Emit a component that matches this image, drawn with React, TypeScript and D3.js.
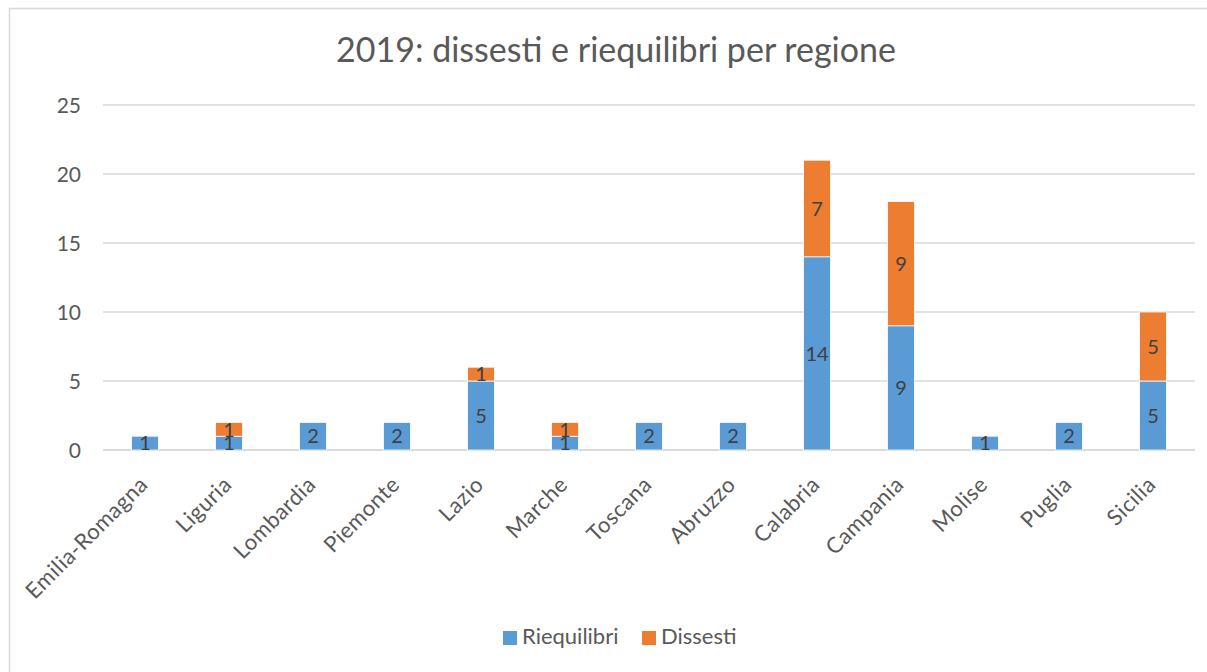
import React from "react";
import * as d3 from "d3";

const regions = ["Emilia-Romagna", "Liguria", "Lombardia", "Piemonte", "Lazio", "Marche", "Toscana", "Abruzzo", "Calabria", "Campania", "Molise", "Puglia", "Sicilia"];
const riequilibri = [1, 1, 2, 2, 5, 1, 2, 2, 14, 9, 1, 2, 5];
const dissesti = [0, 1, 0, 0, 1, 1, 0, 0, 7, 9, 0, 0, 5];
const yTicks = [0, 5, 10, 15, 20, 25];
const seriesNames = ["Riequilibri", "Dissesti"];
const seriesColors = ["#5B9BD5", "#ED7D31"];

const W = 1207;
const H = 672;
const FONT = "Lato, 'Open Sans', sans-serif";

export default function App() {
  const x = d3.scaleBand<string>().domain(regions).range([103, 1195]).paddingInner(0.68).paddingOuter(0.34);
  const y = d3.scaleLinear().domain([0, 25]).range([450, 105]);
  const rows = regions.map((r, i) => ({ region: r, Riequilibri: riequilibri[i], Dissesti: dissesti[i] }));
  const stack = d3.stack<any>().keys(seriesNames)(rows);

  return (
    <svg width={W} height={H} style={{ position: "fixed", left: 0, top: 0, background: "#fff" }} fontFamily={FONT}>
      <rect x={0} y={0} width={W} height={H} fill="#fff" />
      <path d={`M9.5,${H}V8.5H${W}`} fill="none" stroke="#D9D9D9" strokeWidth={1.5} />
      <text x={616} y={62} textAnchor="middle" fontSize={34} fill="#595959">2019: dissesti e riequilibri per regione</text>
      {yTicks.map(t => (
        <g key={t}>
          <line x1={103} x2={1195} y1={y(t)} y2={y(t)} stroke="#D9D9D9" strokeWidth={t === 0 ? 2 : 1.5} />
          <text x={81} y={y(t)} dy="0.36em" textAnchor="end" fontSize={21} fill="#595959">{t}</text>
        </g>
      ))}
      {stack.map((s, si) => (
        <g key={s.key}>
          {s.map((d, i) => {
            const v = d[1] - d[0];
            if (v <= 0) return null;
            return (
              <rect key={i} x={x(regions[i])!} width={x.bandwidth()} y={y(d[1])} height={y(d[0]) - y(d[1])}
                fill={seriesColors[si]} stroke="#fff" strokeWidth={0.75} />
            );
          })}
        </g>
      ))}
      {stack.map((s, si) => (
        <g key={s.key + "l"}>
          {s.map((d, i) => {
            const v = d[1] - d[0];
            if (v <= 0) return null;
            return (
              <text key={i} x={x(regions[i])! + x.bandwidth() / 2} y={y((d[0] + d[1]) / 2)} dy="0.36em"
                textAnchor="middle" fontSize={20} fill="#404040">{v}</text>
            );
          })}
        </g>
      ))}
      {regions.map(r => {
        const cx = x(r)! + x.bandwidth() / 2 + 4;
        return (
          <text key={r} transform={`translate(${cx},486) rotate(-45)`} textAnchor="end" fontSize={22} letterSpacing={0.5} fill="#595959">{r}</text>
        );
      })}
      {seriesNames.map((n, i) => {
        const lx = i === 0 ? 503 : 642;
        return (
          <g key={n}>
            <rect x={lx} y={631} width={14} height={14} fill={seriesColors[i]} />
            <text x={lx + 19} y={644} fontSize={22} fill="#595959">{n}</text>
          </g>
        );
      })}
    </svg>
  );
}
